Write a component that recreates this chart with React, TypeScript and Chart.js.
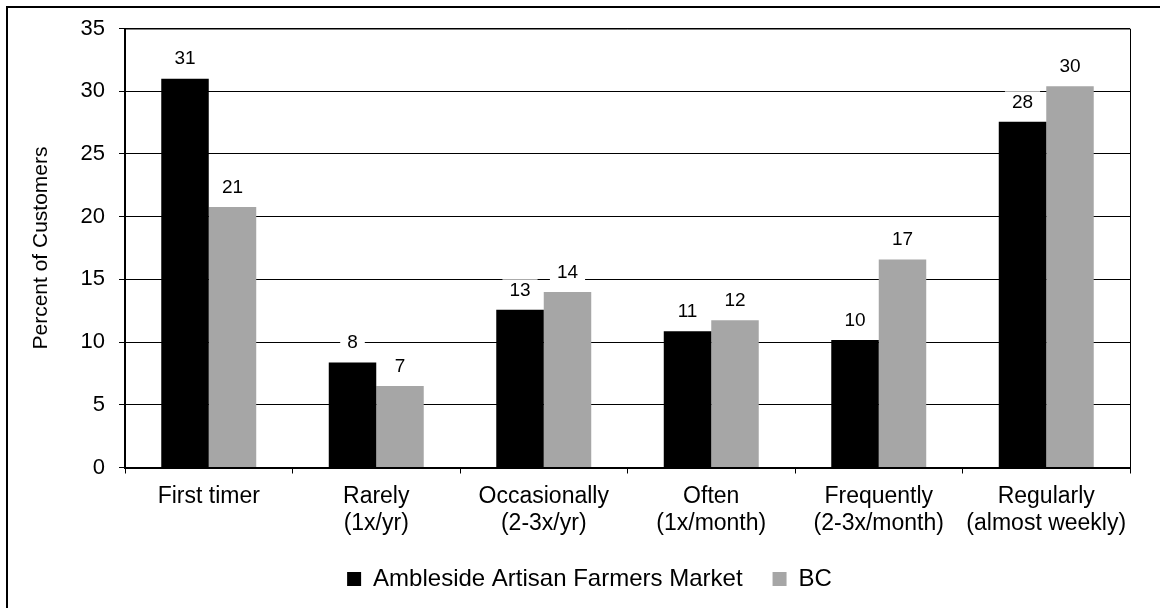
import React, { useEffect, useRef } from "react";
import { Chart, registerables } from "chart.js";

Chart.register(...registerables);

const categories: string[][] = [
  ["First timer"],
  ["Rarely", "(1x/yr)"],
  ["Occasionally", "(2-3x/yr)"],
  ["Often", "(1x/month)"],
  ["Frequently", "(2-3x/month)"],
  ["Regularly", "(almost weekly)"],
];
const amblesideValues = [31.0, 8.38, 12.57, 10.86, 10.17, 27.56];
const bcValues = [20.77, 6.5, 14.0, 11.73, 16.59, 30.4];
const seriesNames = ["Ambleside Artisan Farmers Market", "BC"];
const yTicks = { min: 0, max: 35, step: 5 };
const yTitle = "Percent of Customers";

const FONT = "'Liberation Sans', Arial, sans-serif";

const labelPlugin = {
  id: "barLabels",
  afterDatasetsDraw(chart: any) {
    const ctx = chart.ctx;
    ctx.save();
    ctx.font = `19px ${FONT}`;
    ctx.textAlign = "center";
    ctx.textBaseline = "middle";
    chart.data.datasets.forEach((ds: any, di: number) => {
      const meta = chart.getDatasetMeta(di);
      meta.data.forEach((el: any, i: number) => {
        const v = ds.data[i];
        const txt = String(Math.round(v));
        const w = ctx.measureText(txt).width;
        const cy = el.y - 19.5;
        ctx.fillStyle = "#ffffff";
        ctx.fillRect(el.x - w / 2 - 7, cy - 11, w + 14, 22);
        ctx.fillStyle = "#000000";
        ctx.fillText(txt, el.x, cy);
      });
    });
    ctx.restore();
  },
  afterDraw(chart: any) {
    const ctx = chart.ctx;
    const a = chart.chartArea;
    ctx.save();
    ctx.strokeStyle = "#000000";
    ctx.lineWidth = 1;
    ctx.beginPath();
    ctx.moveTo(a.left, a.top + 0.5);
    ctx.lineTo(a.right + 0.5, a.top + 0.5);
    ctx.lineTo(a.right + 0.5, a.bottom);
    ctx.stroke();
    ctx.lineWidth = 2;
    ctx.strokeRect(7, 7, 1300, 800);
    ctx.restore();
  },
};

export default function App() {
  const ref = useRef<HTMLCanvasElement | null>(null);
  useEffect(() => {
    if (!ref.current) return;
    const chart = new Chart(ref.current, {
      type: "bar",
      data: {
        labels: categories,
        datasets: [
          {
            label: seriesNames[0],
            data: amblesideValues,
            backgroundColor: "#000000",
            borderWidth: 0,
            categoryPercentage: 0.567,
            barPercentage: 1,
          },
          {
            label: seriesNames[1],
            data: bcValues,
            backgroundColor: "#a6a6a6",
            borderWidth: 0,
            categoryPercentage: 0.567,
            barPercentage: 1,
          },
        ],
      },
      options: {
        responsive: false,
        animation: false,
        devicePixelRatio: 1,
        layout: { padding: { left: 49, right: 30, top: 28.5, bottom: 7 } },
        plugins: {
          tooltip: { enabled: false },
          legend: {
            position: "bottom",
            labels: {
              boxWidth: 14,
              boxHeight: 14,
              padding: 30,
              color: "#000000",
              font: { family: FONT, size: 24 },
            },
          },
        },
        scales: {
          x: {
            afterFit: (s: any) => {
              s.height = 69.5;
            },
            grid: {
              display: true,
              drawOnChartArea: false,
              drawTicks: true,
              tickLength: 6,
              color: "#000000",
              offset: true,
            },
            border: { display: true, color: "#000000", width: 2 },
            ticks: {
              color: "#000000",
              padding: 9,
              maxRotation: 0,
              autoSkip: false,
              font: { family: FONT, size: 23, lineHeight: 1.2 },
            },
          },
          y: {
            min: yTicks.min,
            max: yTicks.max,
            afterFit: (s: any) => {
              s.width = 76;
            },
            grid: {
              color: "#000000",
              lineWidth: 1,
              drawTicks: true,
              tickLength: 6,
            },
            border: { display: true, color: "#000000", width: 2 },
            ticks: {
              stepSize: yTicks.step,
              color: "#000000",
              padding: 14,
              font: { family: FONT, size: 22 },
            },
            title: {
              display: true,
              text: yTitle,
              color: "#000000",
              font: { family: FONT, size: 21, lineHeight: 1.2 },
              padding: { top: -20.6, bottom: 0 },
            },
          },
        },
      },
      plugins: [labelPlugin],
    });
    return () => chart.destroy();
  }, []);
  return (
    <div style={{ position: "fixed", left: 0, top: 0, width: 1160, height: 608, background: "#fff", overflow: "hidden" }}>
      <canvas ref={ref} width={1160} height={608} style={{ display: "block" }} />
    </div>
  );
}
